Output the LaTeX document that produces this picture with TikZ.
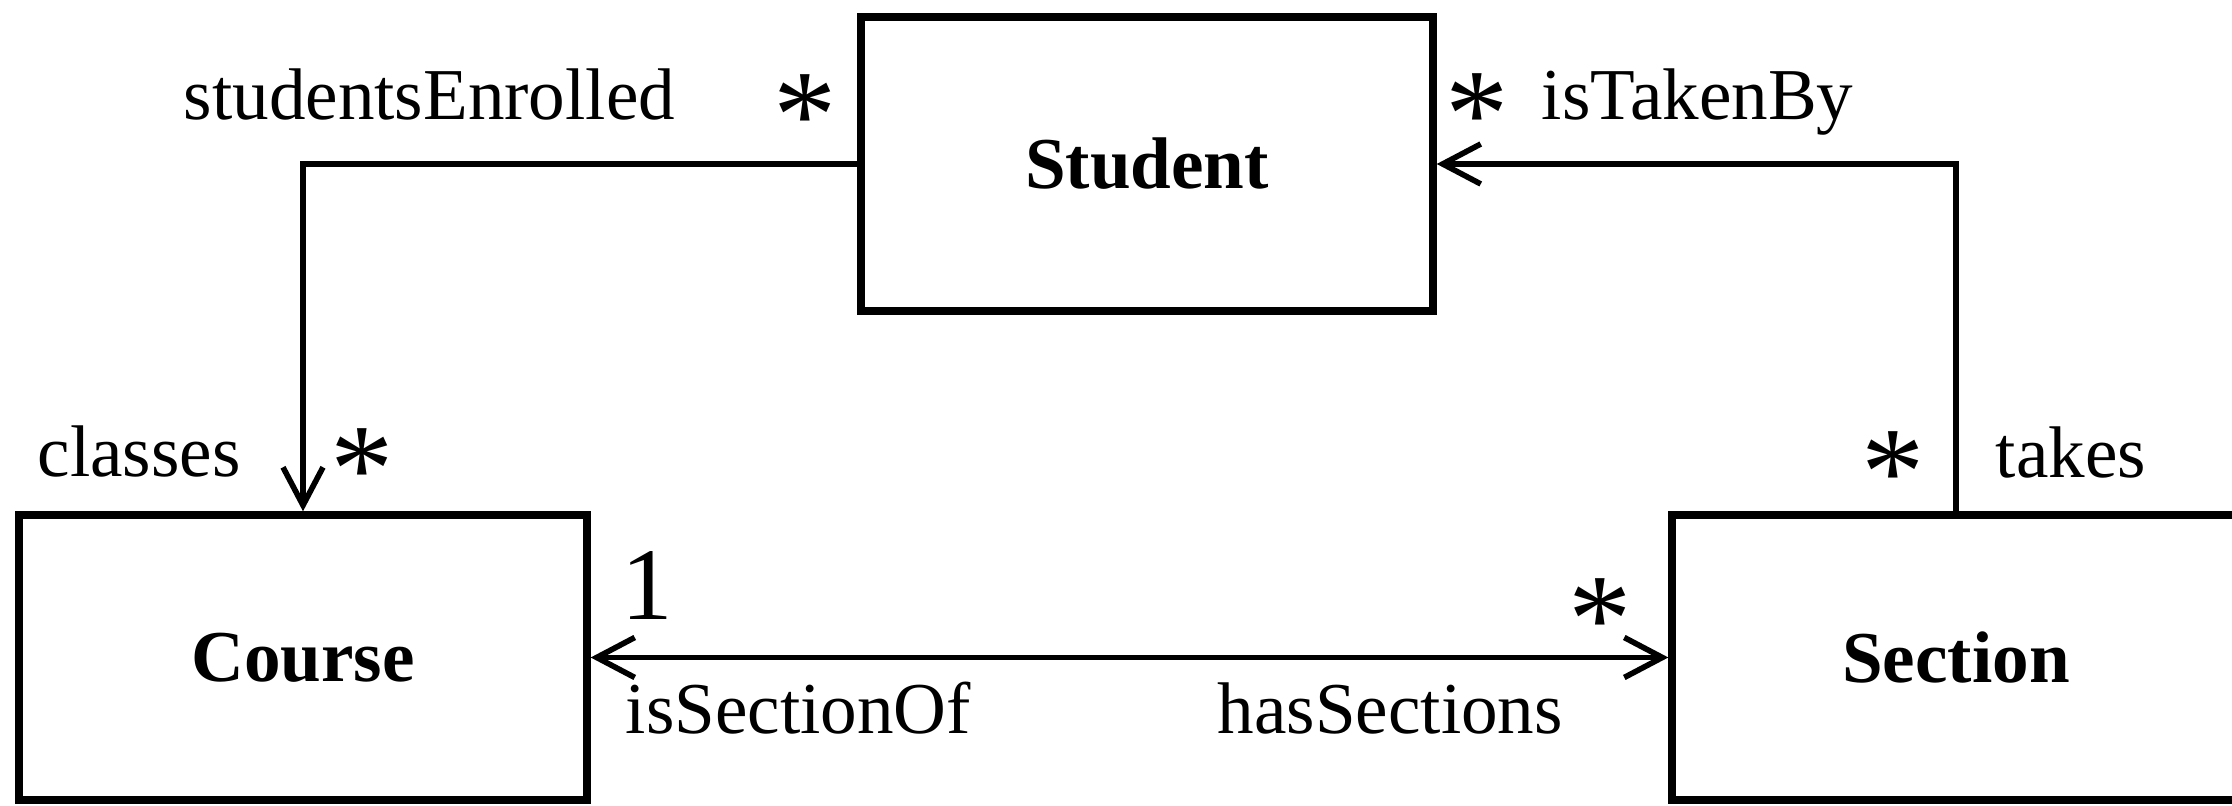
\documentclass[tikz,border=0pt]{standalone}
\usepackage{fontspec}
\setmainfont{Liberation Serif}
\usetikzlibrary{arrows.meta}

\begin{document}
\begin{tikzpicture}[
  >={Straight Barb[length=3.8mm,width=4mm]},
  classe/.style={draw, line width=2.1pt, minimum width=5.68cm, minimum height=2.85cm,
    inner sep=0pt, font=\fontsize{20.8}{24}\selectfont\bfseries},
  role/.style={inner sep=0pt, anchor=base west, font=\fontsize{20.8}{24}\selectfont},
  mult/.style={inner sep=0pt, font=\fontsize{36}{40}\selectfont},
  assoc/.style={line width=1.6pt}]
\clip (0,0) rectangle (22.32,8.06);

% les classes
\node[classe, minimum width=5.72cm, minimum height=2.94cm] (student) at (11.47,6.42) {Student};
\node[classe] (course) at (3.03,1.485) {Course};
\node[classe] (section) at (19.56,1.485) {Section};

% les associations
\draw[assoc,->] (student.west) -| (course.north);
\draw[assoc,->] (section.north) |- (student.east);
\draw[assoc,<->] (course.east) -- (section.west);

% les roles
\foreach \n/\x/\y/\t in {se/1.83/6.86/studentsEnrolled, itb/15.41/6.86/isTakenBy,
    cl/0.37/3.29/classes, tk/19.95/3.28/takes,
    iso/6.25/0.72/isSectionOf, hs/12.17/0.72/hasSections}
  \node[role] (\n) at (\x,\y) {\t};

% les multiplicites
\foreach \n/\x/\y in {ma/8.05/6.90, mb/14.77/6.91, mc/3.62/3.36, md/18.93/3.33, me/16.00/1.86}
  \node[mult] (\n) at (\x,\y) {*};
\node[mult, font=\fontsize{29.3}{32}\selectfont, anchor=base] (un) at (6.475,1.86) {1};
\end{tikzpicture}
\end{document}
